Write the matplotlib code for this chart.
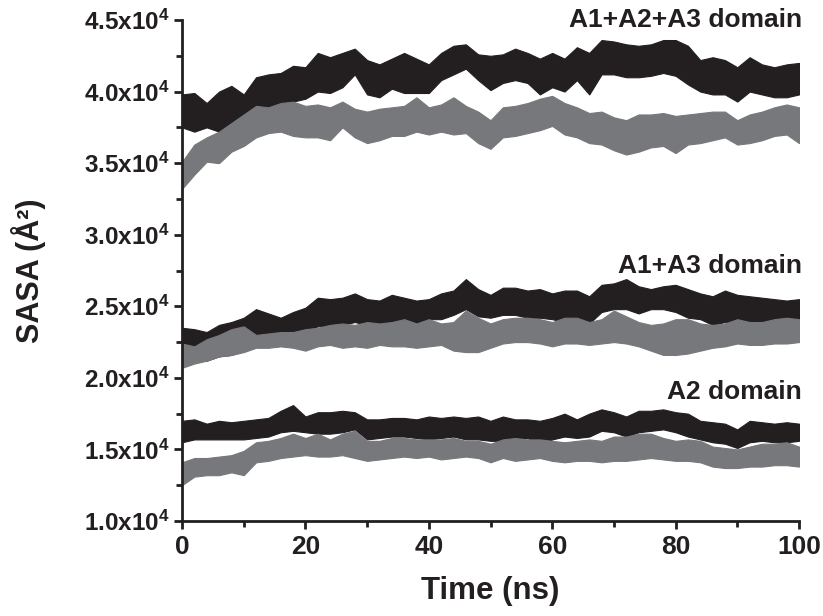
import numpy as np
import matplotlib
matplotlib.use("Agg")
import matplotlib.pyplot as plt
from matplotlib.ticker import MultipleLocator, FuncFormatter

# ---------------- data (values in units of 1e4 A^2), sampled every 2 ns ----------------
time_ns = list(range(0, 101, 2))

# A1+A2+A3 domain
full_black_hi = [3.98, 3.99, 3.92, 4.00, 4.04, 3.98, 4.10, 4.12, 4.13, 4.18, 4.17, 4.27, 4.24, 4.27, 4.30,
                 4.22, 4.19, 4.23, 4.27, 4.23, 4.19, 4.27, 4.32, 4.33, 4.26, 4.25, 4.26, 4.30, 4.27, 4.23,
                 4.27, 4.23, 4.31, 4.27, 4.36, 4.35, 4.33, 4.32, 4.33, 4.36, 4.36, 4.32, 4.22, 4.24, 4.22,
                 4.17, 4.24, 4.19, 4.17, 4.19, 4.20]
full_black_lo = [3.75, 3.72, 3.75, 3.72, 3.76, 3.77, 3.86, 3.86, 3.89, 3.93, 3.95, 4.00, 3.99, 4.03, 4.12,
                 3.98, 3.96, 4.02, 3.99, 3.99, 3.99, 4.08, 4.12, 4.16, 4.08, 4.01, 4.06, 4.08, 4.06, 3.98,
                 4.03, 4.00, 4.08, 3.98, 4.12, 4.12, 4.10, 4.10, 4.11, 4.13, 4.11, 4.05, 4.00, 3.98, 3.98,
                 3.93, 4.00, 3.98, 3.96, 3.96, 3.98]
full_gray_hi = [3.51, 3.63, 3.68, 3.72, 3.78, 3.84, 3.90, 3.89, 3.92, 3.93, 3.90, 3.91, 3.89, 3.93, 3.88,
                3.86, 3.88, 3.89, 3.90, 3.96, 3.89, 3.91, 3.96, 3.90, 3.86, 3.80, 3.89, 3.90, 3.92, 3.95,
                3.97, 3.92, 3.89, 3.85, 3.86, 3.82, 3.80, 3.84, 3.84, 3.85, 3.83, 3.84, 3.85, 3.86, 3.86,
                3.80, 3.84, 3.86, 3.89, 3.91, 3.89]
full_gray_lo = [3.32, 3.42, 3.51, 3.50, 3.58, 3.62, 3.68, 3.71, 3.72, 3.69, 3.68, 3.68, 3.66, 3.75, 3.68,
                3.64, 3.66, 3.69, 3.69, 3.72, 3.70, 3.72, 3.70, 3.71, 3.64, 3.60, 3.68, 3.69, 3.71, 3.73,
                3.76, 3.70, 3.68, 3.64, 3.63, 3.59, 3.56, 3.58, 3.61, 3.62, 3.57, 3.63, 3.64, 3.66, 3.68,
                3.63, 3.64, 3.66, 3.69, 3.70, 3.64]

# A1+A3 domain
a13_black_hi = [2.35, 2.34, 2.32, 2.37, 2.39, 2.42, 2.48, 2.45, 2.42, 2.46, 2.49, 2.56, 2.55, 2.56, 2.59,
                2.55, 2.54, 2.58, 2.56, 2.54, 2.55, 2.59, 2.61, 2.69, 2.62, 2.58, 2.63, 2.63, 2.61, 2.62,
                2.59, 2.61, 2.61, 2.57, 2.65, 2.66, 2.69, 2.64, 2.62, 2.64, 2.65, 2.62, 2.59, 2.57, 2.61,
                2.58, 2.57, 2.56, 2.55, 2.54, 2.55]
a13_black_lo = [2.12, 2.15, 2.12, 2.15, 2.16, 2.19, 2.24, 2.24, 2.27, 2.30, 2.32, 2.36, 2.36, 2.37, 2.39,
                2.37, 2.38, 2.38, 2.41, 2.38, 2.41, 2.41, 2.44, 2.48, 2.43, 2.42, 2.44, 2.44, 2.42, 2.42,
                2.41, 2.39, 2.41, 2.38, 2.46, 2.48, 2.48, 2.45, 2.48, 2.48, 2.46, 2.42, 2.41, 2.37, 2.39,
                2.38, 2.37, 2.38, 2.36, 2.36, 2.37]
a13_gray_hi = [2.24, 2.22, 2.27, 2.30, 2.34, 2.36, 2.30, 2.31, 2.32, 2.32, 2.34, 2.35, 2.37, 2.38, 2.37,
               2.39, 2.38, 2.39, 2.41, 2.38, 2.41, 2.38, 2.39, 2.47, 2.42, 2.38, 2.41, 2.42, 2.42, 2.41,
               2.39, 2.42, 2.42, 2.39, 2.41, 2.47, 2.43, 2.39, 2.37, 2.38, 2.41, 2.41, 2.38, 2.37, 2.38,
               2.41, 2.39, 2.39, 2.41, 2.42, 2.41]
a13_gray_lo = [2.07, 2.10, 2.12, 2.15, 2.16, 2.18, 2.21, 2.21, 2.22, 2.21, 2.19, 2.22, 2.23, 2.21, 2.22,
               2.21, 2.23, 2.22, 2.22, 2.21, 2.22, 2.23, 2.19, 2.18, 2.18, 2.21, 2.24, 2.25, 2.25, 2.24,
               2.22, 2.24, 2.24, 2.23, 2.24, 2.25, 2.24, 2.22, 2.19, 2.16, 2.16, 2.17, 2.19, 2.21, 2.22,
               2.24, 2.23, 2.23, 2.24, 2.24, 2.25]

# A2 domain
a2_black_hi = [1.70, 1.71, 1.68, 1.70, 1.69, 1.70, 1.71, 1.72, 1.77, 1.81, 1.73, 1.76, 1.76, 1.77, 1.76,
               1.71, 1.71, 1.72, 1.72, 1.71, 1.73, 1.72, 1.73, 1.72, 1.73, 1.70, 1.73, 1.71, 1.71, 1.70,
               1.72, 1.75, 1.71, 1.75, 1.78, 1.76, 1.73, 1.77, 1.77, 1.78, 1.76, 1.75, 1.70, 1.69, 1.68,
               1.64, 1.70, 1.69, 1.68, 1.69, 1.68]
a2_black_lo = [1.55, 1.57, 1.57, 1.57, 1.57, 1.57, 1.58, 1.59, 1.62, 1.63, 1.62, 1.61, 1.61, 1.62, 1.64,
               1.57, 1.58, 1.59, 1.59, 1.58, 1.57, 1.58, 1.59, 1.57, 1.57, 1.56, 1.56, 1.58, 1.58, 1.52,
               1.57, 1.59, 1.58, 1.59, 1.63, 1.62, 1.59, 1.62, 1.63, 1.64, 1.62, 1.59, 1.57, 1.55, 1.54,
               1.51, 1.55, 1.56, 1.55, 1.55, 1.56]
a2_gray_hi = [1.41, 1.44, 1.44, 1.45, 1.46, 1.49, 1.55, 1.56, 1.58, 1.61, 1.58, 1.61, 1.57, 1.61, 1.63,
              1.56, 1.56, 1.58, 1.58, 1.57, 1.57, 1.57, 1.58, 1.56, 1.56, 1.54, 1.57, 1.58, 1.57, 1.57,
              1.56, 1.55, 1.56, 1.57, 1.56, 1.59, 1.59, 1.61, 1.61, 1.58, 1.56, 1.57, 1.56, 1.52, 1.51,
              1.50, 1.52, 1.54, 1.54, 1.55, 1.52]
a2_gray_lo = [1.25, 1.31, 1.32, 1.32, 1.34, 1.32, 1.41, 1.42, 1.44, 1.45, 1.46, 1.45, 1.45, 1.46, 1.44,
              1.42, 1.43, 1.44, 1.45, 1.44, 1.45, 1.43, 1.44, 1.45, 1.44, 1.41, 1.44, 1.42, 1.43, 1.44,
              1.42, 1.41, 1.42, 1.42, 1.41, 1.42, 1.42, 1.43, 1.44, 1.43, 1.42, 1.42, 1.41, 1.38, 1.37,
              1.37, 1.38, 1.38, 1.39, 1.39, 1.38]

domain_labels = ["A1+A2+A3 domain", "A1+A3 domain", "A2 domain"]
label_y = [4.5, 2.78, 1.90]
y_ticks = [1.0, 1.5, 2.0, 2.5, 3.0, 3.5, 4.0, 4.5]
x_ticks = [0, 20, 40, 60, 80, 100]

SCALE = 1e4
BLACK = "#231f20"
GRAY = "#77787b"

plt.rcParams["font.family"] = ["Liberation Sans", "DejaVu Sans"]
plt.rcParams["font.weight"] = "bold"
plt.rcParams["mathtext.fontset"] = "custom"
plt.rcParams["mathtext.rm"] = "Liberation Sans:bold"
plt.rcParams["mathtext.bf"] = "Liberation Sans:bold"
plt.rcParams["mathtext.it"] = "Liberation Sans:bold"
plt.rcParams["mathtext.default"] = "rm"

fig = plt.figure(figsize=(8.23, 6.16), dpi=100)
ax = fig.add_axes([182 / 823, 1 - 521 / 616, (799 - 182) / 823, (521 - 20) / 616])

t = np.array(time_ns, dtype=float)
series = [
    (full_black_lo, full_black_hi, BLACK),
    (a13_black_lo, a13_black_hi, BLACK),
    (a2_black_lo, a2_black_hi, BLACK),
    (full_gray_lo, full_gray_hi, GRAY),
    (a13_gray_lo, a13_gray_hi, GRAY),
    (a2_gray_lo, a2_gray_hi, GRAY),
]
for lo, hi, col in series:
    lo_v = np.array(lo) * SCALE
    hi_v = np.array(hi) * SCALE
    ax.fill_between(t, lo_v, hi_v, color=col, lw=0.8, edgecolor=col)

ax.set_xlim(0, 100)
ax.set_ylim(1.0 * SCALE, 4.5 * SCALE)
ax.set_xticks(x_ticks)
ax.xaxis.set_minor_locator(MultipleLocator(10))
ax.set_yticks([v * SCALE for v in y_ticks])
ax.yaxis.set_minor_locator(MultipleLocator(0.25 * SCALE))
ax.yaxis.set_major_formatter(FuncFormatter(lambda v, p: f"{v / SCALE:.1f}x10$^{{4}}$"))

for side in ["top", "right"]:
    ax.spines[side].set_visible(False)
for side in ["left", "bottom"]:
    ax.spines[side].set_linewidth(2.0)
    ax.spines[side].set_color(BLACK)

ax.tick_params(which="major", direction="out", length=6, width=2.0, color=BLACK,
               labelcolor=BLACK, pad=3)
ax.tick_params(axis="y", which="major", labelsize=17.5)
ax.tick_params(axis="x", which="major", labelsize=19, pad=4)
ax.tick_params(which="minor", direction="out", length=4, width=2.0, color=BLACK)

ax.set_xlabel("Time (ns)", fontsize=22.5, fontweight="bold", color=BLACK, labelpad=12)
ax.set_ylabel("SASA (Å²)", fontsize=22, fontweight="bold", color=BLACK, labelpad=27)

for lab, yv in zip(domain_labels, label_y):
    ax.text(100.5, yv * SCALE, lab, ha="right", va="center", fontsize=19,
            fontweight="bold", color=BLACK, clip_on=False)

fig.savefig("out.png", dpi=100)
